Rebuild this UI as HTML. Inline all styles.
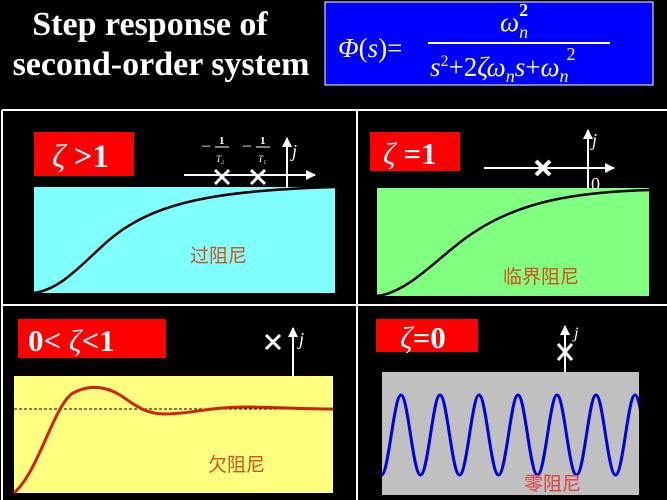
<!DOCTYPE html>
<html><head><meta charset="utf-8"><style>
html,body{margin:0;padding:0;background:#000;}
svg{display:block;}
.t{font-family:"Liberation Serif",serif;fill:#fff;}
.cn{font-family:"Liberation Sans","Noto Sans CJK SC",sans-serif;fill:#d4501a;font-size:19px;}
</style></head><body>
<svg width="667" height="500" viewBox="0 0 667 500" xmlns="http://www.w3.org/2000/svg">
<defs>
<marker id="ar" viewBox="0 0 10 10" refX="9" refY="5" markerWidth="5" markerHeight="5" orient="auto"><path d="M0,0L10,5L0,10z" fill="#fff"/></marker>
<clipPath id="c4"><rect x="382" y="372" width="257" height="123"/></clipPath>
</defs>
<rect width="667" height="500" fill="#000"/>
<text class="t" x="150" y="35" font-size="34" font-weight="bold" text-anchor="middle">Step response of</text>
<text class="t" x="161" y="75" font-size="34" font-weight="bold" text-anchor="middle">second-order system</text>
<rect x="325" y="2" width="328" height="83" fill="#0000ff" stroke="#fff" stroke-width="1"/>
<text class="t" x="338" y="57" font-size="27"><tspan font-style="italic">Φ</tspan>(<tspan font-style="italic">s</tspan>)=</text>
<line x1="428" y1="43" x2="610" y2="43" stroke="#fff" stroke-width="2"/>
<text class="t" x="500" y="31" font-size="27" font-style="italic">ω<tspan font-size="18" dy="7">n</tspan><tspan font-size="18" font-style="normal" font-weight="bold" dy="-22" dx="-9">2</tspan></text>
<text class="t" x="430" y="76" font-size="27"><tspan font-style="italic">s</tspan><tspan font-size="16" dy="-10">2</tspan><tspan dy="10">+2</tspan><tspan font-style="italic">ζω</tspan><tspan font-size="18" font-style="italic" dy="6">n</tspan><tspan font-style="italic" dy="-6">s</tspan>+<tspan font-style="italic">ω</tspan><tspan font-size="18" font-style="italic" dy="6">n</tspan><tspan font-size="18" dy="-22" dx="-2">2</tspan></text>
<line x1="2" y1="110" x2="667" y2="110" stroke="#fff" stroke-width="2"/>
<line x1="2" y1="110" x2="2" y2="500" stroke="#fff" stroke-width="2"/>
<line x1="357" y1="110" x2="357" y2="500" stroke="#fff" stroke-width="2"/>
<line x1="2" y1="305" x2="667" y2="305" stroke="#fff" stroke-width="2"/>

<rect x="34" y="187" width="301" height="106" fill="#80ffff"/>
<path d="M34,293 C70,288 95,245 130,225 C170,200 230,190 335,187" fill="none" stroke="#000" stroke-width="2.5"/>
<rect x="34" y="132" width="100" height="44" fill="#ff0000"/>
<text class="t" x="52" y="167" font-size="33" font-weight="bold"><tspan font-style="italic" font-weight="normal">ζ</tspan> &gt;1</text>
<line x1="184" y1="175" x2="315" y2="175" stroke="#fff" stroke-width="2" marker-end="url(#ar)"/>
<line x1="287" y1="188" x2="287" y2="138" stroke="#fff" stroke-width="2" marker-end="url(#ar)"/>
<text class="t" x="292" y="157" font-size="18" font-style="italic">j</text>
<text class="t" x="202" y="150" font-size="16">–</text><text class="t" x="219" y="144" font-size="11" font-weight="bold">1</text><line x1="215" y1="147" x2="229" y2="147" stroke="#fff"/><text class="t" x="216" y="162" font-size="9" font-style="italic">T₂</text>
<text class="t" x="243" y="150" font-size="16">–</text><text class="t" x="260" y="144" font-size="11" font-weight="bold">1</text><line x1="256" y1="147" x2="270" y2="147" stroke="#fff"/><text class="t" x="258" y="162" font-size="9" font-style="italic">T₁</text>
<path d="M215,170L229,184M229,170L215,184M251,170L265,184M265,170L251,184" stroke="#fff" stroke-width="3"/>
<text class="cn" x="190" y="262">过阻尼</text>

<rect x="377" y="188" width="272" height="108" fill="#80ff80"/>
<path d="M377,296 C410,292 440,255 470,235 C520,200 580,192 649,190" fill="none" stroke="#000" stroke-width="2.5"/>
<rect x="370" y="132" width="90" height="39" fill="#ff0000"/>
<text class="t" x="383" y="164" font-size="31" font-weight="bold"><tspan font-style="italic" font-weight="normal">ζ</tspan> =1</text>
<line x1="484" y1="168" x2="614" y2="168" stroke="#fff" stroke-width="2" marker-end="url(#ar)"/>
<line x1="588" y1="188" x2="588" y2="130" stroke="#fff" stroke-width="2" marker-end="url(#ar)"/>
<text class="t" x="592" y="146" font-size="18" font-style="italic">j</text>
<text class="t" x="591" y="190" font-size="18">0</text>
<path d="M536,161L550,175M550,161L536,175" stroke="#fff" stroke-width="4"/>
<text class="cn" x="503" y="283">临界阻尼</text>

<rect x="14" y="376" width="319" height="117" fill="#ffff80"/>
<line x1="14" y1="409" x2="333" y2="409" stroke="#000" stroke-width="1" stroke-dasharray="3,2"/>
<path d="M14,493 C40,470 55,400 75,392 C90,385 105,386 120,395 C135,405 145,414 165,414 C190,414 210,407 245,407 C275,407 300,409 333,409" fill="none" stroke="#d02000" stroke-width="3"/>
<rect x="18" y="319" width="148" height="39" fill="#ff0000"/>
<text class="t" x="28" y="351" font-size="31" font-weight="bold">0&lt; <tspan font-style="italic" font-weight="normal">ζ</tspan>&lt;1</text>
<line x1="293" y1="376" x2="293" y2="328" stroke="#fff" stroke-width="2" marker-end="url(#ar)"/>
<text class="t" x="299" y="345" font-size="18" font-style="italic">j</text>
<path d="M266,335L280,349M280,335L266,349" stroke="#fff" stroke-width="3"/>
<text class="cn" x="208" y="471">欠阻尼</text>

<rect x="382" y="372" width="257" height="123" fill="#c0c0c0"/>
<path clip-path="url(#c4)" d="M362,395 C369,395 374.5,475 381.5,475 S394,395 401,395 S413,475 420.5,475 S433,395 440,395 S452,475 459.5,475 S472,395 479,395 S491,475 498.5,475 S511,395 518,395 S530,475 537.5,475 S550,395 557,395 S569,475 576.5,475 S589,395 596,395 S608,475 615.5,475 S628,395 635,395 S647,475 654.5,475" fill="none" stroke="#0000e0" stroke-width="3"/>
<rect x="376" y="319" width="102" height="33" fill="#ff0000"/>
<text class="t" x="400" y="348" font-size="31" font-weight="bold"><tspan font-style="italic" font-weight="normal">ζ</tspan>=0</text>
<line x1="565" y1="372" x2="565" y2="326" stroke="#fff" stroke-width="2" marker-end="url(#ar)"/>
<text class="t" x="574" y="338" font-size="16" font-style="italic">j</text>
<path d="M558,344L572,360M572,344L558,360" stroke="#fff" stroke-width="3"/>
<text class="cn" x="524" y="490" style="fill:#e04040">零阻尼</text>
</svg>
</body></html>
